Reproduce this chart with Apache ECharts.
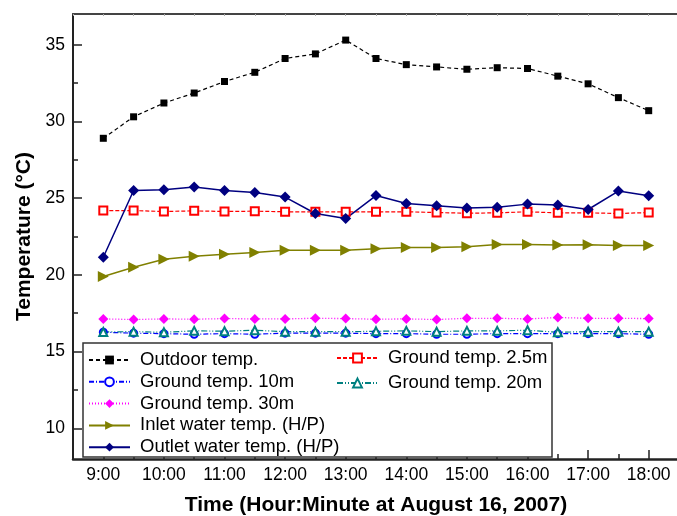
<!DOCTYPE html>
<html>
<head>
<meta charset="utf-8">
<script src="https://cdn.jsdelivr.net/npm/echarts@6/dist/echarts.min.js"></script>
<style>
  html, body { margin: 0; padding: 0; background: #fff; }
  #main { width: 677px; height: 516px; }
</style>
</head>
<body>
<div id="main"></div>
<script>
// time of day, every 30 min
var times = ['9:00', '9:30', '10:00', '10:30', '11:00', '11:30', '12:00', '12:30', '13:00', '13:30',
             '14:00', '14:30', '15:00', '15:30', '16:00', '16:30', '17:00', '17:30', '18:00'];
var hourTicks = [9, 10, 11, 12, 13, 14, 15, 16, 17, 18];
var halfTicks = [9.5, 10.5, 11.5, 12.5, 13.5, 14.5, 15.5, 16.5, 17.5];
var yTicks = [10, 15, 20, 25, 30, 35];
var yMinorTicks = [12.5, 17.5, 22.5, 27.5, 32.5];

var outdoor  = [28.9, 30.3, 31.2, 31.85, 32.6, 33.2, 34.1, 34.4, 35.3, 34.1, 33.7, 33.55, 33.4, 33.5, 33.45, 32.95, 32.45, 31.55, 30.7];
var ground25 = [24.19, 24.19, 24.13, 24.17, 24.13, 24.15, 24.11, 24.11, 24.11, 24.11, 24.11, 24.06, 24.02, 24.04, 24.11, 24.04, 24.04, 24.0, 24.06];
var ground10 = [16.26, 16.2, 16.17, 16.13, 16.17, 16.13, 16.2, 16.2, 16.2, 16.17, 16.17, 16.13, 16.13, 16.17, 16.17, 16.17, 16.17, 16.17, 16.13];
var ground20 = [16.28, 16.3, 16.26, 16.35, 16.33, 16.39, 16.3, 16.3, 16.3, 16.32, 16.35, 16.3, 16.35, 16.35, 16.39, 16.26, 16.3, 16.3, 16.3];
var ground30 = [17.13, 17.09, 17.13, 17.11, 17.15, 17.13, 17.13, 17.17, 17.15, 17.11, 17.13, 17.09, 17.17, 17.17, 17.13, 17.22, 17.17, 17.17, 17.15];
var inlet    = [19.89, 20.5, 21.02, 21.22, 21.35, 21.45, 21.61, 21.61, 21.61, 21.7, 21.78, 21.78, 21.83, 21.98, 21.98, 21.94, 21.96, 21.91, 21.91];
var outlet   = [21.15, 25.5, 25.54, 25.72, 25.5, 25.37, 25.07, 24.0, 23.67, 25.17, 24.65, 24.5, 24.35, 24.41, 24.61, 24.55, 24.26, 25.46, 25.15];

var FONT = 'Arial, "Liberation Sans", sans-serif';

function toHour(t) {
    var p = t.split(':');
    return +p[0] + (+p[1]) / 60;
}
function pairs(vals) {
    return vals.map(function (v, i) { return [toHour(times[i]), v]; });
}

var myChart = echarts.init(document.getElementById('main'));

myChart.setOption({
    animation: false,
    backgroundColor: '#fff',
    grid: { left: 73, top: 14, width: 606, height: 445, containLabel: false, outerBoundsMode: 'none' },
    xAxis: [
        {
            // main bottom axis, hour ticks + labels
            type: 'value', min: 8.5, max: 18.5, position: 'bottom',
            name: 'Time (Hour:Minute at August 16, 2007)',
            nameLocation: 'middle', nameGap: 36,
            nameTextStyle: { fontFamily: FONT, fontWeight: 'bold', fontSize: 21, color: '#000' },
            axisLine: { lineStyle: { color: '#222', width: 2.5 } },
            axisTick: { inside: true, length: 9, customValues: hourTicks, lineStyle: { color: '#222', width: 1.5 } },
            axisLabel: {
                customValues: hourTicks, margin: 7,
                fontFamily: FONT, fontSize: 17.5, color: '#000',
                formatter: function (v) { return v + ':00'; }
            },
            splitLine: { show: false }
        },
        {
            // half hour minor ticks
            type: 'value', min: 8.5, max: 18.5, position: 'bottom',
            axisLine: { show: false },
            axisTick: { inside: true, length: 5, customValues: halfTicks, lineStyle: { color: '#222', width: 1.5 } },
            axisLabel: { show: false },
            splitLine: { show: false }
        },
        {
            // top frame
            type: 'value', min: 8.5, max: 18.5, interval: 0.5, position: 'top',
            axisLine: { lineStyle: { color: '#444', width: 2 } },
            axisTick: { inside: true, length: 2, lineStyle: { color: '#aaa' } },
            axisLabel: { show: false },
            splitLine: { show: false }
        }
    ],
    yAxis: [
        {
            type: 'value', min: 8, max: 37, position: 'left',
            name: 'Temperature (\u00B0C)',
            nameLocation: 'middle', nameGap: 32,
            nameTextStyle: { fontFamily: FONT, fontWeight: 'bold', fontSize: 21, color: '#000' },
            axisLine: { lineStyle: { color: '#222', width: 2 } },
            axisTick: { inside: true, length: 9, customValues: yTicks, lineStyle: { color: '#222', width: 1.5 } },
            axisLabel: { customValues: yTicks, margin: 8, fontFamily: FONT, fontSize: 17.5, color: '#000' },
            splitLine: { show: false }
        },
        {
            type: 'value', min: 8, max: 37, position: 'left',
            axisLine: { show: false },
            axisTick: { inside: true, length: 5, customValues: yMinorTicks, lineStyle: { color: '#222', width: 1.5 } },
            axisLabel: { show: false },
            splitLine: { show: false }
        }
    ],
    legend: [
        {
            orient: 'vertical', left: 88, top: 350, padding: 0,
            itemWidth: 41, itemHeight: 11, itemGap: 1.8,
            textStyle: { fontFamily: FONT, fontSize: 18.5, color: '#000', lineHeight: 20, padding: [0, 0, 0, 5] },
            data: ['Outdoor temp.', 'Ground temp. 10m', 'Ground temp. 30m', 'Inlet water temp. (H/P)', 'Outlet water temp. (H/P)']
        },
        {
            orient: 'vertical', left: 336, top: 348, padding: 0,
            itemWidth: 41, itemHeight: 11, itemGap: 5,
            textStyle: { fontFamily: FONT, fontSize: 18.5, color: '#000', lineHeight: 20, padding: [0, 0, 0, 5] },
            data: ['Ground temp. 2.5m', 'Ground temp. 20m']
        }
    ],
    graphic: [
        {
            type: 'rect', z: 3,
            shape: { x: 83, y: 343, width: 469, height: 114 },
            style: { fill: '#fff', stroke: '#333', lineWidth: 1.5 }
        }
    ],
    series: [
        {
            name: 'Outdoor temp.', type: 'line', data: pairs(outdoor),
            symbol: 'rect', symbolSize: 7,
            lineStyle: { color: '#000', width: 1.2, type: [4, 3] },
            itemStyle: { color: '#000' }
        },
        {
            name: 'Ground temp. 2.5m', type: 'line', data: pairs(ground25),
            symbol: 'emptyRect', symbolSize: 8,
            lineStyle: { color: '#ff0000', width: 1.2, type: [4, 2] },
            itemStyle: { color: '#ff0000', borderWidth: 1.2 }
        },
        {
            name: 'Ground temp. 10m', type: 'line', data: pairs(ground10),
            symbol: 'emptyCircle', symbolSize: 7,
            lineStyle: { color: '#0000ff', width: 1.2, type: [5, 2, 1, 2] },
            itemStyle: { color: '#0000ff', borderWidth: 1.2 }
        },
        {
            name: 'Ground temp. 20m', type: 'line', data: pairs(ground20),
            symbol: 'emptyTriangle', symbolSize: 8,
            lineStyle: { color: '#008080', width: 1.2, type: [6, 2, 1, 2, 1, 2] },
            itemStyle: { color: '#008080', borderWidth: 1.4 }
        },
        {
            name: 'Ground temp. 30m', type: 'line', data: pairs(ground30),
            symbol: 'diamond', symbolSize: 10,
            lineStyle: { color: '#ff00ff', width: 1.3, type: [1, 2] },
            itemStyle: { color: '#ff00ff' }
        },
        {
            name: 'Inlet water temp. (H/P)', type: 'line', data: pairs(inlet),
            symbol: 'triangle', symbolSize: 11, symbolRotate: -90,
            lineStyle: { color: '#808000', width: 1.5, type: 'solid' },
            itemStyle: { color: '#808000' }
        },
        {
            name: 'Outlet water temp. (H/P)', type: 'line', data: pairs(outlet),
            symbol: 'diamond', symbolSize: 11,
            lineStyle: { color: '#000080', width: 1.5, type: 'solid' },
            itemStyle: { color: '#000080' }
        }
    ]
});
</script>
</body>
</html>
